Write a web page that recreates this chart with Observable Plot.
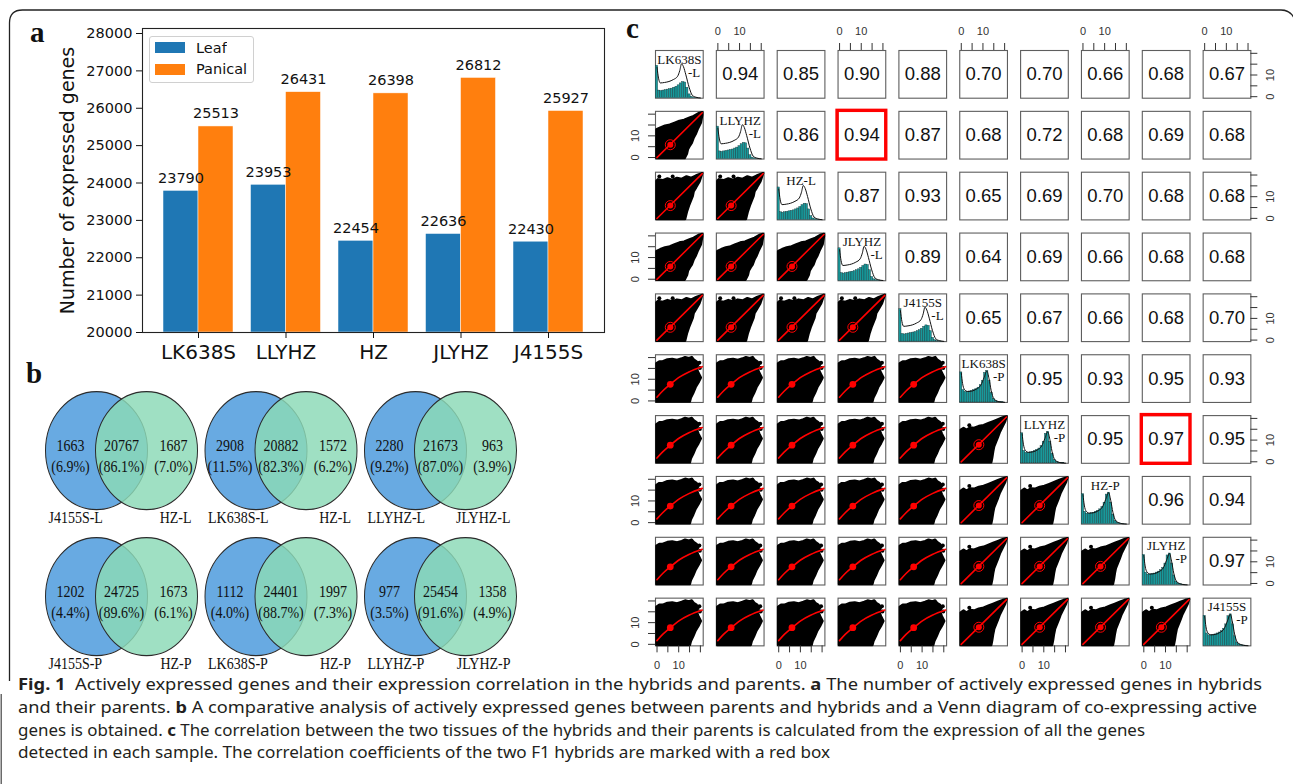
<!DOCTYPE html>
<html>
<head>
<meta charset="utf-8">
<script src="https://cdn.jsdelivr.net/npm/d3@7"></script>
<script src="https://cdn.jsdelivr.net/npm/@observablehq/plot@0.6"></script>
<style>
  body { margin: 0; background: #fff; }
  #fig { position: relative; width: 1293px; height: 784px; overflow: hidden; background: #fff; }
  #fig svg { max-width: none; }
  #legA { position: absolute; left: 149px; top: 36px; width: 105px; height: 47px; box-sizing: border-box;
          border: 1px solid #d0d0d0; border-radius: 3px; padding: 0 0 0 5px; background: #fff; }
  #legA > div { margin: 0 !important; font-family: 'DejaVu Sans', sans-serif !important; font-size: 14.5px !important; color: #111; }
  #legA svg { margin-right: 11px !important; }
  #legA div[class$="-swatch"] { height: 21.5px; padding: 0 !important; display: flex; align-items: center; }
</style>
</head>
<body>
<div id="fig"></div>
<script>
// ================= DATA =================
// Panel a
const samples = ["LK638S", "LLYHZ", "HZ", "JLYHZ", "J4155S"];
const tissues = ["Leaf", "Panical"];
const tissueColors = ["#1f77b4", "#ff7f0e"];
const leafCounts = [23790, 23953, 22454, 22636, 22430];
const panicalCounts = [25513, 26431, 26398, 26812, 25927];
const yTicks = [20000, 21000, 22000, 23000, 24000, 25000, 26000, 27000, 28000];
const yAxisTitle = "Number of expressed genes";

// Panel b (Venn diagrams)
const vennLeftNames = ["J4155S-L", "LK638S-L", "LLYHZ-L", "J4155S-P", "LK638S-P", "LLYHZ-P"];
const vennRightNames = ["HZ-L", "HZ-L", "JLYHZ-L", "HZ-P", "HZ-P", "JLYHZ-P"];
const vennLeftOnly = [1663, 2908, 2280, 1202, 1112, 977];
const vennShared = [20767, 20882, 21673, 24725, 24401, 25454];
const vennRightOnly = [1687, 1572, 963, 1673, 1997, 1358];
const vennLeftPct = [6.9, 11.5, 9.2, 4.4, 4.0, 3.5];
const vennSharedPct = [86.1, 82.3, 87.0, 89.6, 88.7, 91.6];
const vennRightPct = [7.0, 6.2, 3.9, 6.1, 7.3, 4.9];
const vennColors = ["#68aae2", "#8cdab7"];

// Panel c (pairs plot)
const pairLabels = ["LK638S-L", "LLYHZ-L", "HZ-L", "JLYHZ-L", "J4155S-L", "LK638S-P", "LLYHZ-P", "HZ-P", "JLYHZ-P", "J4155S-P"];
const diagLine1 = ["LK638S", "LLYHZ", "HZ-L", "JLYHZ", "J4155S", "LK638S", "LLYHZ", "HZ-P", "JLYHZ", "J4155S"];
const diagLine2 = ["-L", "-L", "", "-L", "-L", "-P", "-P", "", "-P", "-P"];
const corrUpper = [
  [0.94, 0.85, 0.90, 0.88, 0.70, 0.70, 0.66, 0.68, 0.67],
  [0.86, 0.94, 0.87, 0.68, 0.72, 0.68, 0.69, 0.68],
  [0.87, 0.93, 0.65, 0.69, 0.70, 0.68, 0.68],
  [0.89, 0.64, 0.69, 0.66, 0.68, 0.68],
  [0.65, 0.67, 0.66, 0.68, 0.70],
  [0.95, 0.93, 0.95, 0.93],
  [0.95, 0.97, 0.95],
  [0.96, 0.94],
  [0.97]
];
const highlightPairs = [["LLYHZ-L", "JLYHZ-L"], ["LLYHZ-P", "JLYHZ-P"]];
const pairTicks = [0, 5, 10, 15, 20];
const pairTickLabels = [0, 10];
// histogram bar heights (fraction of panel height), bins centred on 0..20
const histLeaf = [0.68, 0.16, 0.15, 0.16, 0.17, 0.18, 0.19, 0.20, 0.22, 0.24, 0.27, 0.31, 0.34, 0.33, 0.22, 0.08, 0.03, 0.012, 0.005, 0.002, 0];
const histPanicle = [0.63, 0.26, 0.22, 0.22, 0.23, 0.24, 0.26, 0.28, 0.31, 0.36, 0.45, 0.62, 0.66, 0.45, 0.20, 0.07, 0.03, 0.015, 0.008, 0.004, 0];
// density curves [expression, fraction of panel height]
const densLeaf = [[0, 0.65], [0.7, 0.42], [1.5, 0.32], [3.5, 0.33], [5.5, 0.35], [7.5, 0.39], [9.5, 0.46], [10.5, 0.58], [11.3, 0.72], [12.2, 0.66], [13.3, 0.49], [14.8, 0.23], [16.3, 0.06], [18, 0.02], [20, 0.005]];
const densPanicle = [[0, 0.62], [0.6, 0.40], [1.5, 0.27], [3, 0.23], [5, 0.24], [7, 0.28], [9, 0.36], [10.5, 0.52], [11.8, 0.66], [12.8, 0.50], [13.8, 0.25], [15, 0.08], [16.5, 0.03], [18, 0.01], [20, 0.003]];
// outlines of the dense scatter clouds (fractions of panel width/height)
const cloudLLnarrow = [[0.02, 0.02], [0.61, 0.02], [0.66, 0.12], [0.68, 0.21], [0.72, 0.28], [0.76, 0.34], [0.8, 0.45], [0.84, 0.52], [0.88, 0.62], [0.95, 0.76], [0.98, 0.93], [0.98, 0.98], [0.9, 0.96], [0.8, 0.9], [0.7, 0.86], [0.6, 0.82], [0.5, 0.8], [0.4, 0.76], [0.3, 0.72], [0.2, 0.7], [0.1, 0.66], [0.02, 0.62]];
const cloudLLbroad = [[0.02, 0.02], [0.62, 0.02], [0.66, 0.18], [0.7, 0.3], [0.74, 0.4], [0.78, 0.5], [0.8, 0.6], [0.85, 0.68], [0.92, 0.8], [0.98, 0.98], [0.85, 0.93], [0.75, 0.88], [0.65, 0.91], [0.55, 0.86], [0.45, 0.88], [0.35, 0.84], [0.25, 0.87], [0.15, 0.83], [0.05, 0.85], [0.02, 0.82]];
const cloudPL = [[0.02, 0.02], [0.02, 0.82], [0.08, 0.86], [0.15, 0.86], [0.25, 0.9], [0.35, 0.91], [0.45, 0.89], [0.55, 0.92], [0.62, 0.95], [0.7, 0.93], [0.76, 0.95], [0.8, 0.9], [0.86, 0.86], [0.9, 0.8], [0.86, 0.72], [0.9, 0.62], [0.95, 0.52], [0.9, 0.42], [0.84, 0.32], [0.79, 0.2], [0.74, 0.1], [0.72, 0.02]];
const cloudPP = [[0.02, 0.02], [0.02, 0.7], [0.08, 0.74], [0.14, 0.7], [0.22, 0.75], [0.3, 0.74], [0.4, 0.78], [0.5, 0.8], [0.6, 0.84], [0.7, 0.88], [0.8, 0.92], [0.9, 0.96], [0.98, 0.98], [0.95, 0.88], [0.9, 0.78], [0.84, 0.66], [0.8, 0.55], [0.76, 0.45], [0.72, 0.35], [0.7, 0.25], [0.68, 0.12], [0.66, 0.02]];
const strayLLnarrow = [[0.84, 0.6]];
const strayLLbroad = [[0.08, 0.91], [0.36, 0.91]];
const strayPL = [[0.93, 0.72], [0.92, 0.83]];
const strayPP = [[0.2, 0.8]];
const fitDiagonal = [[0.03, 0.03], [0.98, 0.97]];
const fitLoessPL = [[0.03, 0.11], [0.15, 0.24], [0.31, 0.38], [0.5, 0.53], [0.7, 0.64], [0.98, 0.75]];
const centreLL = [0.31, 0.3];
const centrePL = [0.31, 0.38];
const centrePP = [0.4, 0.39];

// Caption
const captionLines = [
  [["Fig. 1", true], ["  Actively expressed genes and their expression correlation in the hybrids and parents. ", false], ["a", true], [" The number of actively expressed genes in hybrids", false]],
  [["and their parents. ", false], ["b", true], [" A comparative analysis of actively expressed genes between parents and hybrids and a Venn diagram of co-expressing active", false]],
  [["genes is obtained. ", false], ["c", true], [" The correlation between the two tissues of the hybrids and their parents is calculated from the expression of all the genes", false]],
  [["detected in each sample. The correlation coefficients of the two F1 hybrids are marked with a red box", false]]
];

// ================= BUILD =================
const fig = document.getElementById("fig");
function place(node, left, top) {
  node.style.position = "absolute";
  node.style.left = left + "px";
  node.style.top = top + "px";
  node.style.background = "transparent";
  fig.appendChild(node);
  return node;
}

// ---------- Panel a ----------
const barW = 0.4;
const barRows = samples.flatMap((s, i) => [
  {sample: s, tissue: tissues[0], x1: i - barW, x2: i, count: leafCounts[i]},
  {sample: s, tissue: tissues[1], x1: i, x2: i + barW, count: panicalCounts[i]}
]);
const plotA = Plot.plot({
  width: 620, height: 370,
  marginLeft: 142, marginRight: 16, marginTop: 28, marginBottom: 38,
  style: {fontFamily: "'DejaVu Sans', sans-serif", background: "transparent", color: "#111", overflow: "visible"},
  x: {domain: [-0.64, 4.64]},
  y: {domain: [yTicks[0], 28134]},
  color: {domain: tissues, range: tissueColors},
  marks: [
    Plot.rect(barRows, {x1: "x1", x2: "x2", y1: yTicks[0], y2: "count", fill: "tissue", stroke: "#fff", strokeWidth: 0.5}),
    Plot.text(barRows, {x: d => (d.x1 + d.x2) / 2, y: "count", text: d => String(d.count), dy: -8, lineAnchor: "bottom", fontSize: 14.5}),
    Plot.frame({stroke: "#222", strokeWidth: 1.1}),
    Plot.axisY(yTicks, {tickSize: 6, tickPadding: 4, fontSize: 14.5, label: null, tickFormat: d => String(d)}),
    Plot.axisX(samples.map((_, i) => i), {tickSize: 6, tickPadding: 6, fontSize: 20, label: null, tickFormat: i => samples[i]}),
    Plot.text([yAxisTitle], {text: d => d, frameAnchor: "left", dx: -75, rotate: -90, textAnchor: "middle", lineAnchor: "middle", fontSize: 19})
  ]
});
place(plotA, 0, 0);

const legA = document.createElement("div");
legA.id = "legA";
legA.appendChild(Plot.legend({
  color: {domain: tissues, range: tissueColors},
  legend: "swatches", columns: 1, swatchWidth: 30, swatchHeight: 11
}));
fig.appendChild(legA);

// ---------- Panel b ----------
const vennRows = vennLeftNames.map((name, i) => ({
  col: i % 3, row: Math.floor(i / 3),
  leftName: name, rightName: vennRightNames[i],
  leftOnly: vennLeftOnly[i], shared: vennShared[i], rightOnly: vennRightOnly[i],
  leftPct: vennLeftPct[i], sharedPct: vennSharedPct[i], rightPct: vennRightPct[i]
}));
const pct = v => `(${v.toFixed(1)}%)`;
const vStretch = 1.157;
const vt = (dx, dy, text, anchor = "middle") =>
  Plot.text(vennRows, {x: "col", y: "row", dx, dy, text, textAnchor: anchor, fontSize: 14, fill: "#111"});
const plotB = Plot.plot({
  width: 560, height: 277, margin: 0,
  style: {fontFamily: "'Liberation Serif', serif", background: "transparent", overflow: "visible"},
  x: {domain: [-0.5, 2.5], range: [41.25, 519.75], axis: null},
  y: {domain: [-0.5, 1.5], range: [14.7, 267.1], axis: null},
  marks: [
    Plot.dot(vennRows, {x: "col", y: "row", dx: -25, r: 51, fill: vennColors[0], stroke: "#2b2b2b", strokeWidth: 1}),
    Plot.dot(vennRows, {x: "col", y: "row", dx: 25, r: 51, fill: vennColors[1], fillOpacity: 0.83, stroke: "#2b2b2b", strokeWidth: 1}),
    vt(-51, -4, d => String(d.leftOnly)),
    vt(-51, 14, d => pct(d.leftPct)),
    vt(0, -4, d => String(d.shared)),
    vt(0, 14, d => pct(d.sharedPct)),
    vt(52, -4, d => String(d.rightOnly)),
    vt(52, 14, d => pct(d.rightPct)),
    vt(-73, 58, "leftName", "start"),
    vt(70, 58, "rightName", "end")
  ]
});
place(plotB, 0, 360);
plotB.style.transform = `scaleY(${vStretch})`;
plotB.style.transformOrigin = "0 0";

// ---------- Panel c ----------
const nPairs = pairLabels.length;
const xDom = [-0.7, 21.3], yDom = [-0.7, 21.3];
const sx = f => xDom[0] + f * (xDom[1] - xDom[0]);
const sy = f => yDom[0] + f * (yDom[1] - yDom[0]);
const cellStep = 60.85, cellSize = 47.7;
const gridSpan = (nPairs - 1) * cellStep + cellSize;
const padIn = (cellStep - cellSize) / cellStep;
const cLeft = 620, cWidth = 673, cHeight = 680, cMarginLeft = 35, cMarginTop = 50;

const corrCells = corrUpper.flatMap((vals, r) => vals.map((v, k) => ({row: r, col: r + k + 1, v})));
const highlightCells = highlightPairs.map(([a, b]) => ({row: pairLabels.indexOf(a), col: pairLabels.indexOf(b)}));
const diagCells = pairLabels.map((lab, i) => ({row: i, col: i, lab, line1: diagLine1[i], line2: diagLine2[i], tissue: lab.endsWith("-L") ? "L" : "P"}));
const histCells = diagCells.flatMap(d => (d.tissue === "L" ? histLeaf : histPanicle).map((h, b) => ({row: d.row, col: d.col, x1: b - 0.5, x2: b + 0.5, top: sy(h)})));
const densCells = diagCells.flatMap(d => (d.tissue === "L" ? densLeaf : densPanicle).map(([x, h]) => ({row: d.row, col: d.col, key: d.lab, x, y: sy(h)})));

const cloudByType = {LLn: cloudLLnarrow, LLb: cloudLLbroad, PL: cloudPL, PP: cloudPP};
const strayByType = {LLn: strayLLnarrow, LLb: strayLLbroad, PL: strayPL, PP: strayPP};
const fitByType = {LLn: fitDiagonal, LLb: fitDiagonal, PL: fitLoessPL, PP: fitDiagonal};
const centreByType = {LLn: centreLL, LLb: centreLL, PL: centrePL, PP: centrePP};
const cellType = (r, c) => r < 5 ? (r % 2 ? "LLn" : "LLb") : (c < 5 ? "PL" : "PP");
const lowerCells = [];
for (let r = 1; r < nPairs; r++) for (let c = 0; c < r; c++) lowerCells.push({row: r, col: c, type: cellType(r, c), key: `${r}-${c}`});
const toPts = (cell, pts) => pts.map(([a, b]) => ({row: cell.row, col: cell.col, key: cell.key, type: cell.type, x: sx(a), y: sy(b)}));
const cloudPts = lowerCells.flatMap(c => toPts(c, cloudByType[c.type]));
const strayPts = lowerCells.flatMap(c => toPts(c, strayByType[c.type]));
const fitPts = lowerCells.flatMap(c => toPts(c, fitByType[c.type]));
const centrePts = lowerCells.flatMap(c => toPts(c, [centreByType[c.type]]));

const oddIdx = d3.range(1, nPairs, 2), evenIdx = d3.range(0, nPairs, 2);
const topTicks = oddIdx.flatMap(c => pairTicks.map(t => ({col: c, row: 0, t})));
const topLabels = oddIdx.flatMap(c => pairTickLabels.map(t => ({col: c, row: 0, t})));
const bottomTicks = evenIdx.flatMap(c => pairTicks.map(t => ({col: c, row: nPairs - 1, t})));
const bottomLabels = evenIdx.flatMap(c => pairTickLabels.map(t => ({col: c, row: nPairs - 1, t})));
const leftTicks = oddIdx.flatMap(r => pairTicks.map(t => ({col: 0, row: r, t})));
const leftLabels = oddIdx.flatMap(r => pairTickLabels.map(t => ({col: 0, row: r, t})));
const rightTicks = evenIdx.flatMap(r => pairTicks.map(t => ({col: nPairs - 1, row: r, t})));
const rightLabels = evenIdx.flatMap(r => pairTickLabels.map(t => ({col: nPairs - 1, row: r, t})));

const axisTextOpts = {fontSize: 11, fill: "#333", lineAnchor: "middle", fontFamily: "'Liberation Sans', Arial, sans-serif"};
const serifOpts = {fontSize: 13, fontFamily: "'Liberation Serif', serif", fill: "#111", lineAnchor: "middle"};
const plotC = Plot.plot({
  width: cWidth, height: cHeight,
  marginLeft: cMarginLeft, marginTop: cMarginTop,
  marginRight: cWidth - cMarginLeft - gridSpan,
  marginBottom: cHeight - cMarginTop - gridSpan,
  style: {fontFamily: "'Liberation Sans', Arial, sans-serif", background: "transparent", overflow: "visible"},
  fx: {domain: d3.range(nPairs), paddingInner: padIn, paddingOuter: 0, round: false, axis: null},
  fy: {domain: d3.range(nPairs), paddingInner: padIn, paddingOuter: 0, round: false, axis: null},
  x: {domain: xDom, axis: null},
  y: {domain: yDom, axis: null},
  marks: [
    Plot.frame({stroke: "#5e5e5e", strokeWidth: 1.1}),
    // upper triangle: correlation coefficients
    Plot.text(corrCells, {fx: "col", fy: "row", text: d => d.v.toFixed(2), frameAnchor: "middle", fontSize: 18.5, fill: "#111"}),
    // diagonal: histograms, densities, labels
    Plot.rect(histCells, {fx: "col", fy: "row", x1: "x1", x2: "x2", y1: yDom[0], y2: "top", fill: "#18999b", stroke: "#16373a", strokeWidth: 0.4}),
    Plot.line(densCells, {fx: "col", fy: "row", x: "x", y: "y", z: "key", stroke: "#111", strokeWidth: 1, curve: "monotone-x"}),
    Plot.text(diagCells, {fx: "col", fy: "row", text: "line1", frameAnchor: "top", dy: 9, ...serifOpts}),
    Plot.text(diagCells, {fx: "col", fy: "row", text: "line2", frameAnchor: "top-right", dx: -3, dy: 22, textAnchor: "end", ...serifOpts}),
    // lower triangle: scatter clouds with fits
    Plot.line(cloudPts, {fx: "col", fy: "row", x: "x", y: "y", z: "key", fill: "#000", stroke: "#000", strokeWidth: 2.5, strokeLinejoin: "round", curve: "linear-closed"}),
    Plot.dot(strayPts, {fx: "col", fy: "row", x: "x", y: "y", r: 2, fill: "#000"}),
    Plot.line(fitPts, {fx: "col", fy: "row", x: "x", y: "y", z: "key", stroke: "#ff0000", strokeWidth: 1.6, curve: "monotone-x"}),
    Plot.dot(centrePts, {fx: "col", fy: "row", x: "x", y: "y", r: d => d.type === "PL" ? 4.6 : 3.6, fill: "#ff0000"}),
    Plot.dot(centrePts.filter(d => d.type !== "PL"), {fx: "col", fy: "row", x: "x", y: "y", r: 5, fill: "none", stroke: "#ff0000", strokeWidth: 1}),
    // highlighted hybrid correlations
    Plot.rect(highlightCells, {fx: "col", fy: "row", x1: xDom[0], x2: xDom[1], y1: yDom[0], y2: yDom[1], inset: -0.5, fill: "none", stroke: "#ff0000", strokeWidth: 3.4}),
    // outer axes (alternating, as in R pairs)
    Plot.tickX(topTicks, {fx: "col", fy: "row", x: "t", insetTop: -7, insetBottom: cellSize, stroke: "#333"}),
    Plot.text(topLabels, {fx: "col", fy: "row", x: "t", text: d => String(d.t), frameAnchor: "top", dy: -19, ...axisTextOpts}),
    Plot.tickX(bottomTicks, {fx: "col", fy: "row", x: "t", insetTop: cellSize, insetBottom: -7, stroke: "#333"}),
    Plot.text(bottomLabels, {fx: "col", fy: "row", x: "t", text: d => String(d.t), frameAnchor: "bottom", dy: 20, ...axisTextOpts}),
    Plot.tickY(leftTicks, {fx: "col", fy: "row", y: "t", insetLeft: -7, insetRight: cellSize, stroke: "#333"}),
    Plot.text(leftLabels, {fx: "col", fy: "row", y: "t", text: d => String(d.t), frameAnchor: "left", dx: -20, rotate: -90, textAnchor: "middle", ...axisTextOpts}),
    Plot.tickY(rightTicks, {fx: "col", fy: "row", y: "t", insetLeft: cellSize, insetRight: -7, stroke: "#333"}),
    Plot.text(rightLabels, {fx: "col", fy: "row", y: "t", text: d => String(d.t), frameAnchor: "right", dx: 20, rotate: -90, textAnchor: "middle", ...axisTextOpts})
  ]
});
place(plotC, cLeft, 0);

// ---------- Overlay: border, panel letters, caption ----------
const overlay = d3.create("svg")
  .attr("width", 1293).attr("height", 784)
  .style("position", "absolute").style("left", "0px").style("top", "0px").style("pointer-events", "none");
overlay.append("path")
  .attr("d", "M9.5,681 V23 Q9.5,10 22.5,10 H1281 Q1293,10 1296,24")
  .attr("fill", "none").attr("stroke", "#222").attr("stroke-width", 1.3);
overlay.append("path")
  .attr("d", "M1.2,694 V784")
  .attr("fill", "none").attr("stroke", "#444").attr("stroke-width", 1.2);
const letters = [["a", 30, 42], ["b", 26, 383], ["c", 626, 38]];
overlay.selectAll("text.panel").data(letters).join("text")
  .attr("class", "panel")
  .attr("x", d => d[1]).attr("y", d => d[2])
  .attr("font-family", "'Liberation Serif', serif").attr("font-weight", "bold").attr("font-size", 29)
  .attr("fill", "#111").text(d => d[0]);
const capBase = [690, 713, 735.5, 758];
const capWidth = [1244, 1239, 1127, 812];
captionLines.forEach((parts, i) => {
  const t = overlay.append("text")
    .attr("x", 18).attr("y", capBase[i])
    .attr("font-family", "'Noto Sans', 'Open Sans', sans-serif").attr("font-size", 16)
    .attr("fill", "#231f20").attr("textLength", capWidth[i]).attr("lengthAdjust", "spacingAndGlyphs")
    .style("white-space", "pre");
  parts.forEach(([txt, bold]) => t.append("tspan").attr("font-weight", bold ? "bold" : "normal").text(txt));
});
fig.appendChild(overlay.node());
</script>
</body>
</html>
